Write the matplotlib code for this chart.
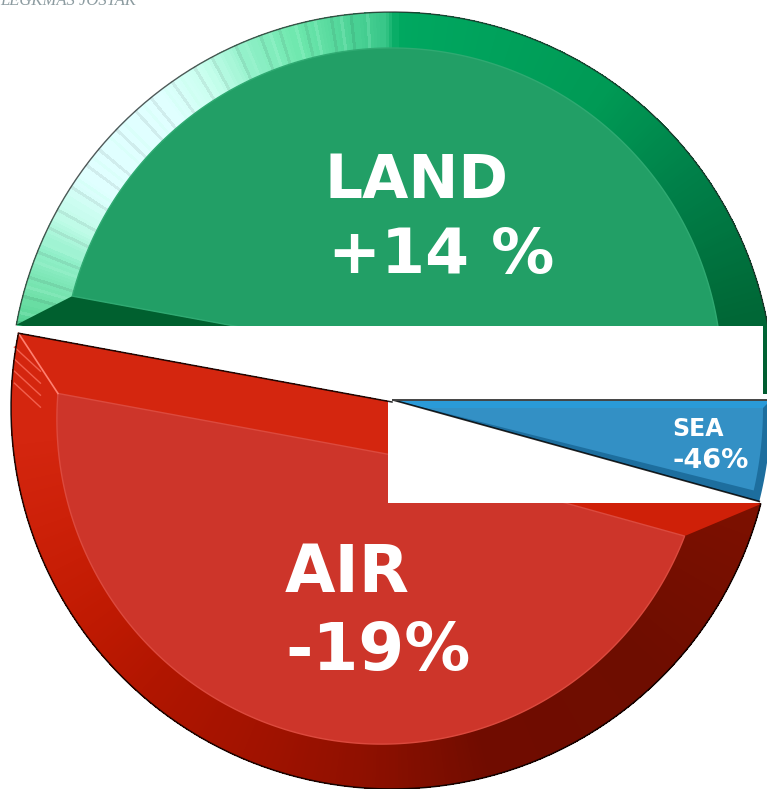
import numpy as np
import matplotlib
matplotlib.use("Agg")
import matplotlib.pyplot as plt
from matplotlib.colors import LinearSegmentedColormap
from matplotlib.patches import Polygon, Rectangle

# slice sizes in percent of the circle
slice_names = ["LAND", "AIR", "SEA"]
slice_shares = [47.1, 48.6, 4.3]
slice_labels = ["LAND\n+14 %", "AIR\n-19%", "SEA\n-46%"]

land_rim_angles = [0, 15, 35, 55, 75, 89, 91, 105, 113, 120, 128, 145, 152, 158, 165, 170]
land_rim_colors = ["#005c30", "#006a38", "#007f48", "#009a55", "#00a25c", "#00a860", "#38c688",
                   "#6fe8ae", "#90f0c8", "#c8ffee", "#e0ffff", "#e0ffff", "#c0fbe8", "#90efc8",
                   "#6fe0a8", "#50d090"]
air_rim_angles = [169, 185, 200, 215, 230, 250, 265, 285, 315, 345]
air_rim_colors = ["#d4260f", "#d4260f", "#cc2008", "#c01a02", "#b01500", "#a01200", "#8f1000",
                  "#700c00", "#6e0d00", "#7d1000"]

W, H = 767, 789


def ray_hit(apex, angle, center, r):
    # where a ray from apex (angle in degrees, y axis pointing up) meets the circle
    d = np.array([np.cos(np.radians(angle)), -np.sin(np.radians(angle))])
    o = np.array(apex, dtype=float) - np.array(center, dtype=float)
    b = o @ d
    t = -b + np.sqrt(b * b - o @ o + r * r)
    return np.array(apex, dtype=float) + t * d


def arc_points(apex, a0, a1, center, r, n=200):
    return np.array([ray_hit(apex, a, center, r) for a in np.linspace(a0, a1, n)])


def fan(ax, apex, a0, a1, center, r, color_at, step=0.5):
    angles = np.arange(a0, a1, step)
    for i, a in enumerate(angles):
        p0 = ray_hit(apex, a, center, r)
        p1 = ray_hit(apex, min(a + step * 1.5, a1), center, r)
        c = color_at(a, i)
        ax.add_patch(Polygon([apex, p0, p1], closed=True, facecolor=c, edgecolor="none",
                             antialiased=False))


def make_rim(angles, colors):
    pos = (np.array(angles) - angles[0]) / (angles[-1] - angles[0])
    cmap = LinearSegmentedColormap.from_list("rim", list(zip(pos, colors)))
    return lambda a: np.array(cmap((a - angles[0]) / (angles[-1] - angles[0])))


fig = plt.figure(figsize=(W / 100, H / 100), dpi=100)
ax = fig.add_axes([0, 0, 1, 1])
ax.set_xlim(0, W)
ax.set_ylim(H, 0)
ax.axis("off")

edges = np.concatenate([[0], np.cumsum(slice_shares)]) * 3.6
land_a0, land_a1 = edges[0], edges[1]
air_a0, air_a1 = edges[1], edges[2]
sea_a0, sea_a1 = edges[2], edges[3]

# LAND
land_apex, land_c, land_r = (392, 394), (392, 394), 382
face_apex, face_c, face_r = (392, 355), (392, 378), 330
land_rim = make_rim(land_rim_angles, land_rim_colors)


def land_color(a, i):
    c = land_rim(a)
    if 92 < a < 170 and (i * 7) % 11 < 3:
        c = c.copy()
        c[:3] = c[:3] * 0.82 + np.array([0.75, 1.0, 0.9]) * 0.18 if (i % 2) else c[:3] * 0.93
    return c


fan(ax, land_apex, land_a0, land_a1, land_c, land_r, land_color)
ax.add_patch(Polygon([land_apex, ray_hit(land_apex, land_a1, land_c, land_r),
                      ray_hit(face_apex, land_a1, face_c, face_r), face_apex],
                     closed=True, facecolor="#00602f", edgecolor="none"))
land_face = arc_points(face_apex, land_a0, land_a1, face_c, face_r)
ax.add_patch(Polygon(np.vstack([land_face, [face_apex]]), closed=True, facecolor="#229f66",
                     edgecolor="#2faa72", lw=1))
land_arc = arc_points(land_apex, land_a0, land_a1, land_c, land_r)
ax.plot(land_arc[:, 0], land_arc[:, 1], color="#222222", lw=1.0, alpha=0.75)

# white band hiding the lower part of the green slice
ax.add_patch(Rectangle((0, 326), 763, 70, facecolor="white", edgecolor="none"))

# AIR
air_apex, air_c, air_r = (392, 402), (392, 408), 381
air_face_apex, air_face_c, air_face_r = (392, 455), (381.6, 419.4), 324.7
air_rim = make_rim(air_rim_angles, air_rim_colors)
fan(ax, air_apex, air_a0, air_a1, air_c, air_r, lambda a, i: air_rim(a))
ax.add_patch(Polygon([air_apex, ray_hit(air_apex, air_a0, air_c, air_r),
                      ray_hit(air_face_apex, air_a0, air_face_c, air_face_r), air_face_apex],
                     closed=True, facecolor="#d4260f", edgecolor="none"))
ax.add_patch(Polygon([air_apex, ray_hit(air_apex, air_a1, air_c, air_r),
                      ray_hit(air_face_apex, air_a1, air_face_c, air_face_r), air_face_apex],
                     closed=True, facecolor="#cf2008", edgecolor="none"))
air_face = arc_points(air_face_apex, air_a0, air_a1, air_face_c, air_face_r)
ax.add_patch(Polygon(np.vstack([air_face, [air_face_apex]]), closed=True, facecolor="#cd352a",
                     edgecolor="#dc4a3e", lw=1))
corner_out = ray_hit(air_apex, air_a0, air_c, air_r)
corner_in = ray_hit(air_face_apex, air_a0, air_face_c, air_face_r)
ax.plot([corner_out[0], corner_in[0]], [corner_out[1], corner_in[1]], color="#ff8070", lw=1.2)
for off in [14, 26, 38, 50]:
    ax.plot([corner_out[0] - 4, corner_out[0] + 22], [corner_out[1] + off, corner_out[1] + off + 24],
            color="#f2604e", lw=1)
air_outline = np.vstack([[air_apex], arc_points(air_apex, air_a0, air_a1, air_c, air_r), [air_apex]])
ax.plot(air_outline[:-1, 0], air_outline[:-1, 1], color="black", lw=1.1, alpha=0.85)

# white box under the blue slice
ax.add_patch(Rectangle((388, 400), 369, 103, facecolor="white", edgecolor="none"))

# SEA
sea_apex, sea_c, sea_r = (393, 400), (393, 408), 378
sea_pts = np.vstack([[sea_apex], arc_points(sea_apex, sea_a0, sea_a1, sea_c, sea_r, 40)])
ax.add_patch(Polygon(sea_pts, closed=True, facecolor="#1d6e9e", edgecolor="none"))
top_bevel = np.array([sea_apex, ray_hit(sea_apex, 0, sea_c, sea_r), (763, 408), (425, 408)])
ax.add_patch(Polygon(top_bevel, closed=True, facecolor="#2a9ad8", edgecolor="none"))
sea_face = np.vstack([[(425, 408)], arc_points((425, 408), sea_a0 + 1.4, sea_a1, sea_c, 370, 40)])
ax.add_patch(Polygon(sea_face, closed=True, facecolor="#3390c5", edgecolor="none"))
low = ray_hit(sea_apex, sea_a0, sea_c, sea_r)
ax.plot([sea_apex[0], low[0]], [sea_apex[1], low[1]], color="black", lw=1.2, alpha=0.85)
ax.plot([sea_apex[0], W], [sea_apex[1], sea_apex[1]], color="#444444", lw=1.4)

# labels, one font size per line so the widths come out as in the picture
land_lines = slice_labels[0].split("\n")
air_lines = slice_labels[1].split("\n")
sea_lines = slice_labels[2].split("\n")
for line, x, y, fs in [(land_lines[0], 325, 198, 43), (land_lines[1], 328, 273, 45.5),
                       (air_lines[0], 285, 592, 47), (air_lines[1], 285, 670, 47.5),
                       (sea_lines[0], 672, 436, 17), (sea_lines[1], 672, 468, 19.5)]:
    ax.text(x, y, line, color="white", fontsize=fs, fontweight="bold",
            family="DejaVu Sans", ha="left", va="baseline")

# cut off credit text in the corner
ax.text(0, 5, "LEGKMAS JOSTAK", color="#6f8288", fontsize=12, family="Liberation Serif",
        style="italic", ha="left", va="baseline", alpha=0.8)

fig.savefig("out.png", dpi=100)
